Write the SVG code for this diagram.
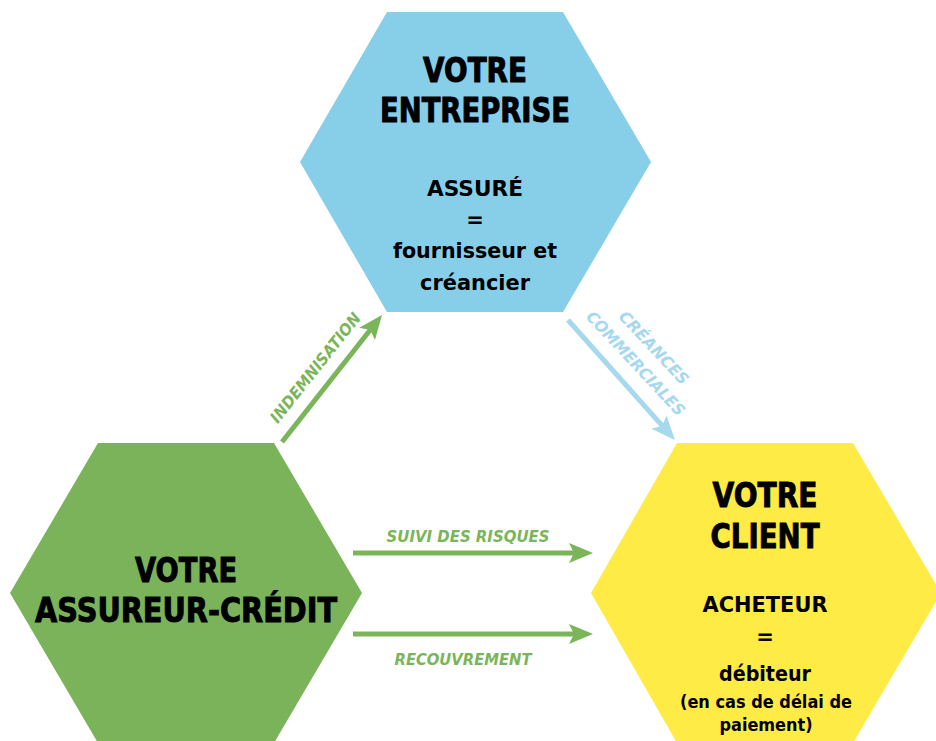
<svg xmlns="http://www.w3.org/2000/svg" width="936" height="741" viewBox="0 0 936 741">
<defs>
<style>
.head{font-family:"DejaVu Sans","Liberation Sans",sans-serif;font-weight:bold;font-size:34px;fill:#000;text-anchor:middle;stroke:#000;stroke-width:1}
.sub{font-family:"DejaVu Sans","Liberation Sans",sans-serif;font-weight:bold;font-size:21px;fill:#000;text-anchor:middle}
.small{font-family:"DejaVu Sans","Liberation Sans",sans-serif;font-weight:bold;font-size:17px;fill:#000;text-anchor:middle}
.lbl{font-family:"DejaVu Sans","Liberation Sans",sans-serif;font-weight:bold;font-style:italic;font-size:16px;text-anchor:middle}
.g{fill:#7AB55A}
.b{fill:#A6D8EE}
.lg{stroke:#7AB55A;stroke-width:5;fill:none}
.lb{stroke:#A6D8EE;stroke-width:5;fill:none}
</style>
<marker id="ag" viewBox="0 0 24 20" refX="9" refY="10" markerWidth="24" markerHeight="20" markerUnits="userSpaceOnUse" orient="auto">
<path d="M0,0 L24,10 L0,20 L5,10 z" fill="#7AB55A"/>
</marker>
<marker id="ab" viewBox="0 0 24 20" refX="9" refY="10" markerWidth="24" markerHeight="20" markerUnits="userSpaceOnUse" orient="auto">
<path d="M0,0 L24,10 L0,20 L5,10 z" fill="#A6D8EE"/>
</marker>
</defs>
<rect width="936" height="741" fill="#fff"/>

<g id="entreprise">
<polygon points="387,12 563,12 651,162 563,312 387,312 300,162" fill="#87CEE8"/>
<text class="head" x="475" y="82" textLength="104" lengthAdjust="spacingAndGlyphs">VOTRE</text>
<text class="head" x="475" y="122" textLength="190" lengthAdjust="spacingAndGlyphs">ENTREPRISE</text>
<text class="sub" x="475" y="196" textLength="96" lengthAdjust="spacingAndGlyphs">ASSURÉ</text>
<text class="sub" x="475" y="227">=</text>
<text class="sub" x="475" y="258" textLength="164" lengthAdjust="spacingAndGlyphs">fournisseur et</text>
<text class="sub" x="475" y="290" textLength="110" lengthAdjust="spacingAndGlyphs">créancier</text>
</g>

<g id="assureur">
<polygon points="98,443 274,443 362,593 274,743 98,743 10,593" fill="#7AB359"/>
<text class="head" x="186" y="582" textLength="102" lengthAdjust="spacingAndGlyphs">VOTRE</text>
<text class="head" x="186" y="622" textLength="302" lengthAdjust="spacingAndGlyphs">ASSUREUR-CRÉDIT</text>
</g>

<g id="client">
<polygon points="677,443 853,443 941,593 853,743 677,743 591,593" fill="#FFEB45"/>
<text class="head" x="765" y="507" textLength="105" lengthAdjust="spacingAndGlyphs">VOTRE</text>
<text class="head" x="765" y="548" textLength="109" lengthAdjust="spacingAndGlyphs">CLIENT</text>
<text class="sub" x="765" y="612" textLength="125" lengthAdjust="spacingAndGlyphs">ACHETEUR</text>
<text class="sub" x="765" y="644">=</text>
<text class="sub" x="765" y="681" font-size="23" textLength="92" lengthAdjust="spacingAndGlyphs">débiteur</text>
<text class="small" x="766" y="708" textLength="172" lengthAdjust="spacingAndGlyphs">(en cas de délai de</text>
<text class="small" x="766" y="731" textLength="93" lengthAdjust="spacingAndGlyphs">paiement)</text>
</g>

<g id="connectors">
<line class="lg" x1="282" y1="442" x2="372.7" y2="326.8" marker-end="url(#ag)"/>
<line class="lb" x1="568" y1="320" x2="665" y2="428.8" marker-end="url(#ab)"/>
<line class="lg" x1="353" y1="553" x2="578" y2="553" marker-end="url(#ag)"/>
<line class="lg" x1="353" y1="634" x2="578" y2="634" marker-end="url(#ag)"/>
<g transform="translate(315,367.5) rotate(-51.6)">
<text class="lbl g" x="0" y="6" textLength="135" lengthAdjust="spacingAndGlyphs">INDEMNISATION</text>
</g>
<g transform="translate(644.7,354.9) rotate(47)">
<text class="lbl b" x="1" y="-6" textLength="94" lengthAdjust="spacingAndGlyphs">CRÉANCES</text>
<text class="lbl b" x="0" y="18" textLength="136" lengthAdjust="spacingAndGlyphs">COMMERCIALES</text>
</g>
<text class="lbl g" x="468" y="542" textLength="163" lengthAdjust="spacingAndGlyphs">SUIVI DES RISQUES</text>
<text class="lbl g" x="463" y="665" textLength="137" lengthAdjust="spacingAndGlyphs">RECOUVREMENT</text>
</g>
</svg>
